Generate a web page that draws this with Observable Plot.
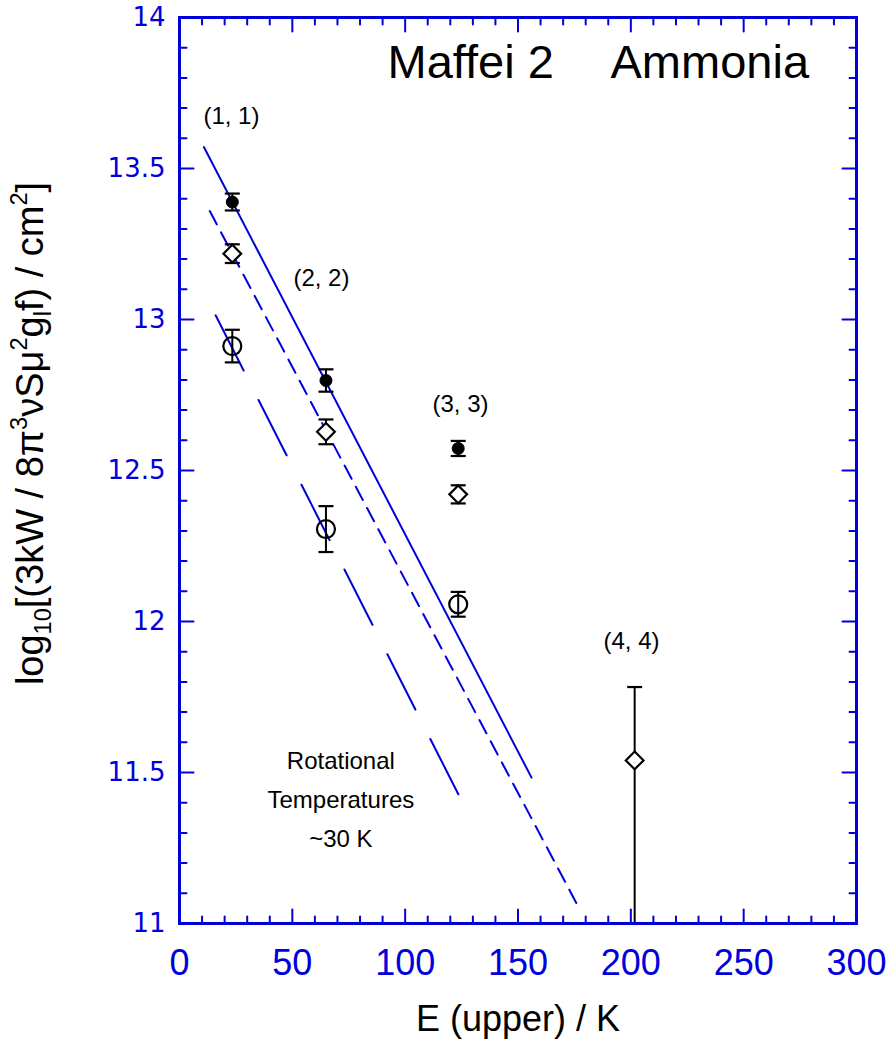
<!DOCTYPE html>
<html>
<head>
<meta charset="utf-8">
<script src="https://cdn.jsdelivr.net/npm/d3@7"></script>
<script src="https://cdn.jsdelivr.net/npm/@observablehq/plot@0.6"></script>
<style>
  html, body { margin: 0; padding: 0; background: #ffffff; }
</style>
</head>
<body>
<div id="chart"></div>
<script>
// ---------- data ----------
const E_upper = [23.4, 64.9, 123.5, 201.7];              // K, transitions (1,1)..(4,4)
const transitionLabels = ["(1, 1)", "(2, 2)", "(3, 3)", "(4, 4)"];
const labelX = [23.0, 62.9, 124.5, 200.3];
const labelY = [13.672, 13.137, 12.719, 11.934];

const filledY   = [13.389, 12.798, 12.573, null];
const filledErr = [0.028, 0.037, 0.025, null];

const diamondY       = [13.218, 12.628, 12.421, 11.540];
const diamondErrUp   = [0.031, 0.041, 0.030, 0.243];
const diamondErrDown = [0.031, 0.041, 0.030, 0.900];

const openY   = [12.912, 12.306, 12.057, null];
const openErr = [0.054, 0.076, 0.041, null];

// rotational-temperature fit lines (end points)
const solidFitX = [10.8, 156.0];     const solidFitY = [13.571, 11.483];
const shortDashFitX = [13.4, 176.2]; const shortDashFitY = [13.359, 11.063];
const longDashFitX = [16.0, 124.1];  const longDashFitY = [13.014, 11.420];

const xMajor = [0, 50, 100, 150, 200, 250, 300];
const xMinor = d3.range(0, 301, 10).filter(v => v % 50 !== 0);
const yMajor = [11, 11.5, 12, 12.5, 13, 13.5, 14];
const yMinor = d3.range(110, 141, 1).filter(v => v % 5 !== 0).map(v => v / 10);

const titleLeft = "Maffei 2";
const titleRight = "Ammonia";
const xTitle = "E (upper) / K";
const yTitle = "log10[(3kW / 8π3νSμ2glf) / cm2]";
const noteText = "Rotational\nTemperatures\n~30 K";

// ---------- styling ----------
const BLUE = "#0000dd";
const FONT = "'Liberation Sans', Arial, Helvetica, sans-serif";

// ---------- derived tables ----------
const errRows = [];
const capRows = [];
E_upper.forEach((e, i) => {
  [[filledY[i], filledErr[i], filledErr[i]],
   [diamondY[i], diamondErrUp[i], diamondErrDown[i]],
   [openY[i], openErr[i], openErr[i]]].forEach(([y, up, dn]) => {
    if (y == null) return;
    errRows.push({E: e, lo: y - dn, hi: y + up});
    capRows.push({E: e, y: y + up});
    capRows.push({E: e, y: y - dn});
  });
});
const filledRows = E_upper.map((e, i) => ({E: e, y: filledY[i]})).filter(d => d.y != null);
const diamondRows = E_upper.map((e, i) => ({E: e, y: diamondY[i]})).filter(d => d.y != null);
const openRows = E_upper.map((e, i) => ({E: e, y: openY[i]})).filter(d => d.y != null);
const pts = (xs, ys) => xs.map((x, i) => ({x, y: ys[i]}));
const labelRows = transitionLabels.map((t, i) => ({t, x: labelX[i], y: labelY[i]}));

const capSymbol = {draw(context) { context.moveTo(-7.5, 0); context.lineTo(7.5, 0); }};
const tickShape = {draw(context, l) { context.moveTo(0, 0); context.lineTo(0, -l); }};

const edgeTicks = (vals, len, side) => {
  const rows = vals.map(v =>
    side === "bottom" ? {x: v, y: 11} :
    side === "top" ? {x: v, y: 14} :
    side === "left" ? {x: 0, y: v} : {x: 300, y: v});
  const rot = {bottom: 0, top: 180, left: 90, right: -90}[side];
  return Plot.vector(rows, {x: "x", y: "y", length: len, rotate: rot, anchor: "start",
    shape: tickShape, stroke: BLUE, strokeWidth: 2});
};

const chart = Plot.plot({
  width: 891,
  height: 1042,
  marginLeft: 179,
  marginRight: 35,
  marginTop: 17,
  marginBottom: 119,
  style: {fontFamily: FONT, background: "white", overflow: "visible"},
  x: {domain: [0, 300]},
  y: {domain: [11, 14]},
  marks: [
    // tick labels
    Plot.axisX({anchor: "bottom", ticks: xMajor, tickSize: 0, tickPadding: 26, fontSize: 36,
      fill: BLUE, label: null, tickFormat: d => String(d)}),
    Plot.axisY({anchor: "left", ticks: yMajor, tickSize: 0, tickPadding: 14, fontSize: 26,
      fontFamily: "'DejaVu Sans', sans-serif", fill: BLUE, label: null, tickFormat: d => String(d)}),
    // inward ticks on all four sides
    edgeTicks(xMajor, 14, "bottom"), edgeTicks(xMinor, 7, "bottom"),
    edgeTicks(xMajor, 14, "top"), edgeTicks(xMinor, 7, "top"),
    edgeTicks(yMajor, 14, "left"), edgeTicks(yMinor, 7, "left"),
    edgeTicks(yMajor, 14, "right"), edgeTicks(yMinor, 7, "right"),
    // fit lines
    Plot.line(pts(solidFitX, solidFitY), {x: "x", y: "y", stroke: BLUE, strokeWidth: 2}),
    Plot.line(pts(shortDashFitX, shortDashFitY), {x: "x", y: "y", stroke: BLUE, strokeWidth: 2, strokeDasharray: "15,9"}),
    Plot.line(pts(longDashFitX, longDashFitY), {x: "x", y: "y", stroke: BLUE, strokeWidth: 2, strokeDasharray: "62,33"}),
    // error bars
    Plot.ruleX(errRows, {x: "E", y1: "lo", y2: "hi", stroke: "black", strokeWidth: 2, clip: true}),
    Plot.dot(capRows, {x: "E", y: "y", symbol: capSymbol, stroke: "black", strokeWidth: 2.2, fill: "none", clip: true}),
    // markers
    Plot.dot(filledRows, {x: "E", y: "y", r: 6, fill: "black", stroke: "black", strokeWidth: 1}),
    Plot.dot(diamondRows, {x: "E", y: "y", r: 8, symbol: "diamond2", fill: "white", stroke: "black", strokeWidth: 2.2}),
    Plot.dot(openRows, {x: "E", y: "y", r: 9, fill: "none", stroke: "black", strokeWidth: 2.2}),
    // frame
    Plot.frame({stroke: BLUE, strokeWidth: 3}),
    // annotations
    Plot.text(labelRows, {x: "x", y: "y", text: "t", fontSize: 24, fill: "black", lineAnchor: "middle"}),
    Plot.text([{t: titleLeft, x: 92.2, y: 13.848}], {x: "x", y: "y", text: "t", fontSize: 47, textAnchor: "start", lineAnchor: "middle", fill: "black"}),
    Plot.text([{t: titleRight, x: 191.0, y: 13.848}], {x: "x", y: "y", text: "t", fontSize: 47, textAnchor: "start", lineAnchor: "middle", fill: "black"}),
    Plot.text([{t: noteText, x: 71.5, y: 11.423}], {x: "x", y: "y", text: "t", fontSize: 24, lineHeight: 1.62, lineAnchor: "middle", fill: "black"}),
    Plot.text([{t: xTitle}], {text: "t", frameAnchor: "bottom", dy: 95.5, fontSize: 36, lineAnchor: "middle", fill: "black"}),
    Plot.text([{t: yTitle}], {text: "t", frameAnchor: "left", rotate: -90, dx: -149, dy: -37, fontSize: 38, lineAnchor: "middle", textAnchor: "middle", fill: "black"})
  ]
});

document.getElementById("chart").append(chart);

// rich text for the y-axis title (sub- and superscripts)
const F = 38;
const segs = [["log", 0], ["10", -1], ["[(3kW / 8π", 0], ["3", 1], ["νSμ", 0], ["2", 1],
              ["g", 0], ["l", -1], ["f) / cm", 0], ["2", 1], ["]", 0]];
d3.select(chart).selectAll("text").filter(function () { return this.textContent === yTitle; })
  .each(function () {
    const t = d3.select(this);
    t.text(null);
    let cur = 0;
    for (const [s, k] of segs) {
      const target = k === 1 ? -0.42 * F : k === -1 ? 0.22 * F : 0;
      t.append("tspan").attr("dy", target - cur).attr("font-size", k ? 0.62 * F : F).text(s);
      cur = target;
    }
  });
</script>
</body>
</html>
